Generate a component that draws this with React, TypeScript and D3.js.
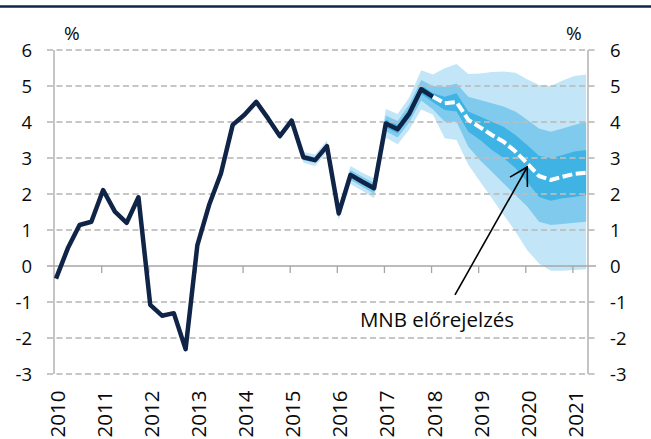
import React from "react";
import * as d3 from "d3";

// ---------- DATA ----------
const years = [2010, 2011, 2012, 2013, 2014, 2015, 2016, 2017, 2018, 2019, 2020, 2021];
const yTicks = [-3, -2, -1, 0, 1, 2, 3, 4, 5, 6];

// quarterly actuals, 2010Q1 .. 2018Q1 (index 0..32)
const actual = [
  -0.35, 0.49, 1.14, 1.23, 2.11, 1.51, 1.2, 1.91, -1.08, -1.38, -1.31, -2.31,
  0.58, 1.7, 2.57, 3.92, 4.2, 4.56, 4.1, 3.61, 4.04, 3.02, 2.94, 3.33,
  1.46, 2.53, 2.34, 2.16, 3.96, 3.8, 4.24, 4.91, 4.7,
];
const actualStart = 0;

// MNB forecast, 2018Q1 .. 2021Q2 (index 32..45)
const forecast = [4.7, 4.52, 4.55, 4.06, 3.85, 3.64, 3.45, 3.18, 2.85, 2.5, 2.39, 2.48, 2.56, 2.59];
const forecastStart = 32;

// fan bands, index 16..45
const bandStart = 16;
const outerHi = [4.26, 4.64, 4.18, 3.71, 4.14, 3.17, 3.1, 3.49, 1.64, 2.78, 2.59, 2.44, 4.36, 4.22, 4.69,
  5.44, 5.32, 5.49, 5.61, 5.33, 5.35, 5.39, 5.4, 5.37, 5.19, 5.03, 5.0, 5.15, 5.28, 5.32];
const outerLo = [4.14, 4.48, 4.02, 3.51, 3.94, 2.87, 2.78, 3.17, 1.28, 2.28, 2.09, 1.88, 3.56, 3.38, 3.79,
  4.35, 4.2, 3.55, 3.5, 2.81, 2.34, 1.88, 1.42, 0.96, 0.44, 0.07, -0.13, -0.13, -0.11, -0.09];
const midHi = [4.23, 4.6, 4.14, 3.66, 4.09, 3.1, 3.02, 3.41, 1.56, 2.67, 2.48, 2.31, 4.18, 4.03, 4.49,
  5.17, 5.0, 4.98, 5.07, 4.7, 4.61, 4.52, 4.43, 4.29, 4.06, 3.82, 3.73, 3.82, 3.92, 4.01];
const midLo = [4.17, 4.52, 4.06, 3.56, 3.99, 2.94, 2.86, 3.25, 1.36, 2.39, 2.2, 2.01, 3.74, 3.57, 3.99,
  4.6, 4.35, 4.01, 4.01, 3.31, 2.94, 2.62, 2.29, 1.97, 1.65, 1.23, 1.14, 1.17, 1.2, 1.23];
const innerHi = [4.22, 4.58, 4.12, 3.64, 4.07, 3.06, 2.98, 3.37, 1.51, 2.6, 2.41, 2.24, 4.07, 3.91, 4.36,
  5.02, 4.8, 4.7, 4.8, 4.29, 4.15, 4.01, 3.87, 3.64, 3.36, 3.06, 3.0, 3.08, 3.18, 3.22];
const innerLo = [4.18, 4.54, 4.08, 3.58, 4.01, 2.98, 2.9, 3.29, 1.41, 2.46, 2.27, 2.08, 3.85, 3.69, 4.12,
  4.78, 4.55, 4.33, 4.29, 3.73, 3.5, 3.22, 3.0, 2.72, 2.34, 1.92, 1.81, 1.88, 1.92, 1.97];

const annotationText = "MNB előrejelzés";
// annotation anchor points in data units (quarter index, value)
const arrowTip = [40, 2.75];
const arrowTail = [33.87, -0.8];
const labelPos = [25.8, -1.69];

// ---------- LAYOUT ----------
const W = 651;
const H = 439;
const FONT = "'Open Sans', 'Noto Sans', sans-serif";
const NAVY = "#0f2447";
const GRID = "#bdbdbd";
const AXIS = "#a6a6a6";
const TXT = "#0a0a0a";

export default function App() {
  const x = d3.scaleLinear().domain([-0.17, 45.16]).range([54, 588]);
  const y = d3.scaleLinear().domain([-3, 6]).range([374, 50]);

  const line = d3
    .line<[number, number]>()
    .x((d) => x(d[0]))
    .y((d) => y(d[1]));

  const actualPts: [number, number][] = actual.map((v, i) => [actualStart + i, v]);
  const forecastPts: [number, number][] = forecast.map((v, i) => [forecastStart + i, v]);

  const band = (hi: number[], lo: number[]) =>
    d3
      .area<number>()
      .x((_, i) => x(bandStart + i))
      .y0((_, i) => y(lo[i]))
      .y1((_, i) => y(hi[i]))(hi) || "";

  const left = x.range()[0];
  const right = x.range()[1];

  const tip = [x(arrowTip[0]), y(arrowTip[1])];
  const tail = [x(arrowTail[0]), y(arrowTail[1])];
  const dx = tail[0] - tip[0];
  const dy = tail[1] - tip[1];
  const len = Math.hypot(dx, dy);
  const ux = dx / len;
  const uy = dy / len;
  const headLen = 20;
  const ang = Math.PI / 6;
  const rot = (a: number) => [
    tip[0] + headLen * (ux * Math.cos(a) - uy * Math.sin(a)),
    tip[1] + headLen * (ux * Math.sin(a) + uy * Math.cos(a)),
  ];
  const h1 = rot(ang);
  const h2 = rot(-ang);

  return (
    <svg
      width={W}
      height={H}
      style={{ position: "fixed", left: 0, top: 0, background: "#fff" }}
      fontFamily={FONT}
    >
      <rect x={0} y={0} width={W} height={H} fill="#fff" />
      {/* top rule */}
      <line x1={0} x2={W} y1={6.5} y2={6.5} stroke={NAVY} strokeWidth={2.5} />

      {/* fan bands */}
      <path d={band(outerHi, outerLo)} fill="#c2e6f7" />
      <path d={band(midHi, midLo)} fill="#80cbed" />
      <path d={band(innerHi, innerLo)} fill="#40b3e5" />

      {/* gridlines */}
      {yTicks
        .filter((t) => t !== 0)
        .map((t) => (
          <line
            key={t}
            x1={left - 7}
            x2={right + 8}
            y1={y(t)}
            y2={y(t)}
            stroke={GRID}
            strokeWidth={2}
            strokeDasharray="6,3.5"
            opacity={0.85}
          />
        ))}

      {/* axes */}
      <line x1={left} x2={left} y1={y(6)} y2={y(-3)} stroke={AXIS} strokeWidth={1.3} />
      <line x1={right} x2={right} y1={y(6)} y2={y(-3)} stroke={AXIS} strokeWidth={1.3} />
      <line x1={left - 7} x2={right + 8} y1={y(0)} y2={y(0)} stroke={AXIS} strokeWidth={1.5} />
      {years.map((yr, k) => {
        const tx = x(4 * k - 0.12);
        return (
          <g key={yr}>
            {k > 0 && <line x1={tx} x2={tx} y1={y(0)} y2={y(0) + 7} stroke={AXIS} strokeWidth={1.3} />}
            <text
              transform={`translate(${tx + 10},390.5) rotate(-90)`}
              textAnchor="end"
              fontSize={20.5}
              fill={TXT}
            >
              {yr}
            </text>
          </g>
        );
      })}

      {/* y labels */}
      {yTicks.map((t) => (
        <g key={t}>
          <text x={32} y={y(t)} dy="0.36em" textAnchor="end" fontSize={18.5} fill={TXT}>
            {t}
          </text>
          <text x={610} y={y(t)} dy="0.36em" textAnchor="start" fontSize={18.5} fill={TXT}>
            {t}
          </text>
        </g>
      ))}
      <text x={64} y={40} fontSize={19} fill={TXT}>%</text>
      <text x={566} y={40} fontSize={19} fill={TXT}>%</text>

      {/* actual */}
      <path
        d={line(actualPts) || ""}
        fill="none"
        stroke={NAVY}
        strokeWidth={4.5}
        strokeLinejoin="round"
      />
      {/* forecast */}
      <path
        d={line(forecastPts) || ""}
        fill="none"
        stroke="#fff"
        strokeWidth={4}
        strokeDasharray="10,3.5"
        strokeLinejoin="round"
      />

      {/* annotation */}
      <line x1={tail[0]} y1={tail[1]} x2={tip[0]} y2={tip[1]} stroke="#000" strokeWidth={1.6} />
      <polyline
        points={`${h1[0]},${h1[1]} ${tip[0]},${tip[1]} ${h2[0]},${h2[1]}`}
        fill="none"
        stroke="#000"
        strokeWidth={1.6}
      />
      <text x={x(labelPos[0])} y={y(labelPos[1])} fontSize={20.5} fill={TXT}>
        {annotationText}
      </text>
    </svg>
  );
}
